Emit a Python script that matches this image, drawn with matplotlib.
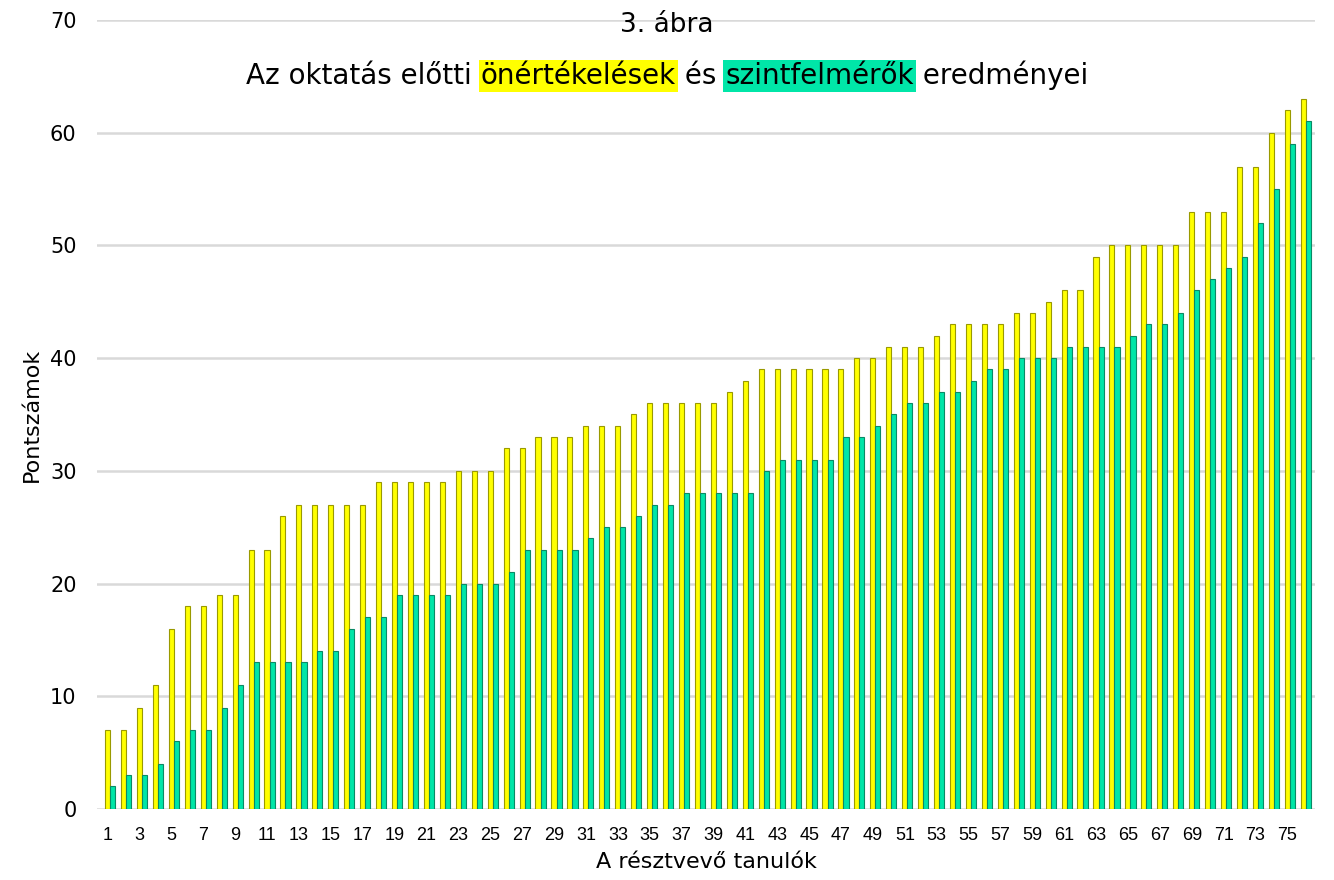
import numpy as np
import matplotlib
matplotlib.use('Agg')
import matplotlib.pyplot as plt

# résztvevők pontszámai (önértékelés / szintfelmérő)
participants = np.arange(1, 77)
self_scores = [7, 7, 9, 11, 16, 18, 18, 19, 19, 23, 23, 26, 27, 27, 27, 27, 27, 29, 29, 29,
               29, 29, 30, 30, 30, 32, 32, 33, 33, 33, 34, 34, 34, 35, 36, 36, 36, 36, 36, 37,
               38, 39, 39, 39, 39, 39, 39, 40, 40, 41, 41, 41, 42, 43, 43, 43, 43, 44, 44, 45,
               46, 46, 49, 50, 50, 50, 50, 50, 53, 53, 53, 57, 57, 60, 62, 63]
test_scores = [2, 3, 3, 4, 6, 7, 7, 9, 11, 13, 13, 13, 13, 14, 14, 16, 17, 17, 19, 19,
               19, 19, 20, 20, 20, 21, 23, 23, 23, 23, 24, 25, 25, 26, 27, 27, 28, 28, 28, 28,
               28, 30, 31, 31, 31, 31, 33, 33, 34, 35, 36, 36, 37, 37, 38, 39, 39, 40, 40, 40,
               41, 41, 41, 41, 42, 43, 43, 44, 46, 47, 48, 49, 52, 55, 59, 61]
tick_labels = [str(i) for i in range(1, 76, 2)]
y_ticks = list(range(0, 71, 10))

yellow = '#ffff00'
green = '#00e6a8'

fig = plt.figure(figsize=(13.34, 8.8), dpi=100)
ax = fig.add_axes([0.073, 0.0807, 0.913, 0.8966])

w = 0.32
ax.bar(participants + 0.15 - w / 2, self_scores, width=w, color=yellow,
       edgecolor='#9a9a00', linewidth=0.8, zorder=3)
ax.bar(participants + 0.15 + w / 2, test_scores, width=w, color=green,
       edgecolor='#0a8a66', linewidth=0.8, zorder=3)

ax.set_xlim(0.35, 76.75)
ax.set_ylim(0, 70)
ax.set_yticks(y_ticks)
ax.set_xticks(range(1, 76, 2))
ax.set_xticklabels(tick_labels, family='Liberation Sans', fontsize=13)
ax.tick_params(axis='y', labelsize=15, length=0, pad=15)
ax.tick_params(axis='x', length=0, pad=13)
ax.grid(axis='y', color='#d9d9d9', linewidth=1.8, zorder=0)
for s in ax.spines.values():
    s.set_visible(False)

ax.set_ylabel('Pontszámok', fontsize=16, labelpad=6)
ax.set_xlabel('A résztvevő tanulók', fontsize=16, labelpad=6)

fig.text(0.5, 0.972, '3. ábra', ha='center', va='center', fontsize=19)

# alcím kiemelt szavakkal
pieces = [('Az oktatás előtti ', None), ('önértékelések', yellow), (' és ', None),
          ('szintfelmérők', green), (' eredményei', None)]
texts = []
for txt, bg in pieces:
    kw = {}
    if bg:
        kw['bbox'] = dict(facecolor=bg, edgecolor='none', pad=1.5)
    texts.append(fig.text(0, 0.914, txt, ha='left', va='center', fontsize=20, **kw))

fig.canvas.draw()
r = fig.canvas.get_renderer()
widths = [t.get_window_extent(renderer=r).width / fig.bbox.width for t in texts]
x = 0.5 - sum(widths) / 2
for t, wd in zip(texts, widths):
    t.set_x(x)
    x += wd

fig.savefig('out.png', dpi=100)
